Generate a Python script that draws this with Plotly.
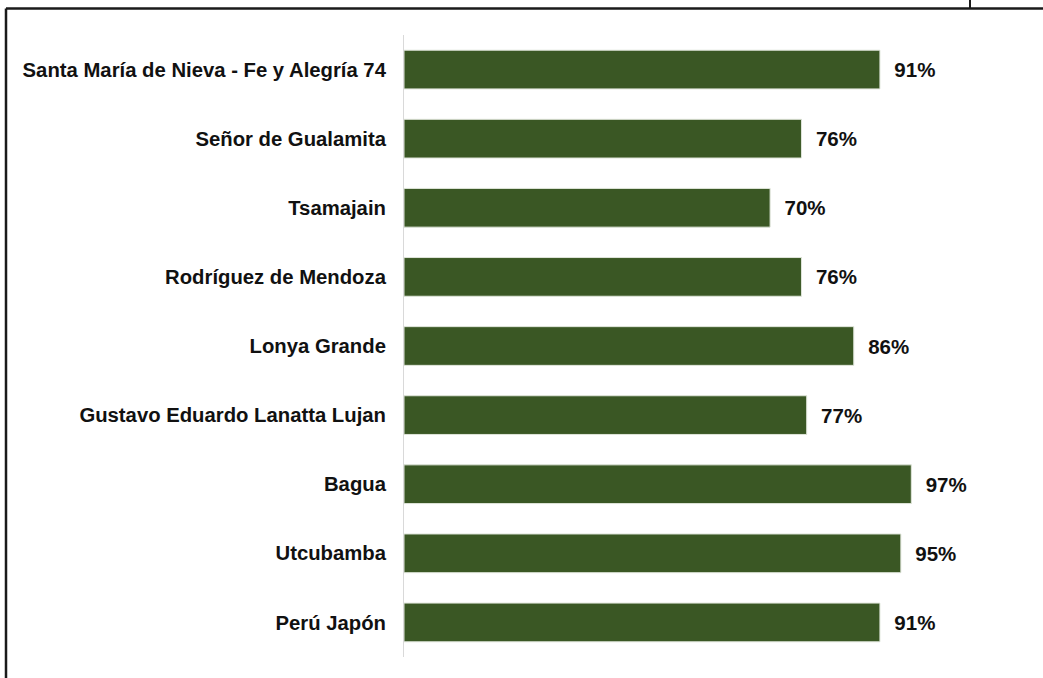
import plotly.graph_objects as go

categories = [
    "Santa María de Nieva - Fe y Alegría 74",
    "Señor de Gualamita",
    "Tsamajain",
    "Rodríguez de Mendoza",
    "Lonya Grande",
    "Gustavo Eduardo Lanatta Lujan",
    "Bagua",
    "Utcubamba",
    "Perú Japón",
]
values = [91, 76, 70, 76, 86, 77, 97, 95, 91]

W, H = 1043, 678
L, R, T, B = 404, 116, 35, 21

fig = go.Figure()
fig.add_trace(go.Bar(
    y=categories,
    x=values,
    orientation="h",
    marker=dict(color="#3a5724", line=dict(color="#dfe5da", width=1)),
    width=0.56,
    texttemplate="\u00a0\u00a0%{x}%",
    textposition="outside",
    constraintext="none",
    cliponaxis=False,
    textfont=dict(family="Liberation Sans", size=20.5, color="#111111", weight="bold"),
    hoverinfo="skip",
))

pw = W - L - R
ph = H - T - B
def px_x(p):
    return (p - L) / pw
def px_y(p):
    return 1 - (p - T) / ph

fig.update_layout(
    width=W, height=H,
    margin=dict(l=L, r=R, t=T, b=B),
    paper_bgcolor="white",
    plot_bgcolor="white",
    showlegend=False,
    bargap=0.44,
    xaxis=dict(range=[0, 100], visible=False, fixedrange=True),
    yaxis=dict(
        autorange="reversed",
        showline=True, linecolor="#d9d9d9", linewidth=1,
        ticks="", showgrid=False, zeroline=False,
        ticklabelstandoff=13,
        tickfont=dict(family="Liberation Sans", size=20.3, color="#111111", weight="bold"),
    ),
    shapes=[
        # outer frame (top and left edges visible)
        dict(type="line", xref="paper", yref="paper",
             x0=px_x(6), x1=px_x(1060), y0=px_y(8.5), y1=px_y(8.5),
             line=dict(color="#1a1a1a", width=2.5)),
        dict(type="line", xref="paper", yref="paper",
             x0=px_x(6), x1=px_x(6), y0=px_y(8.5), y1=px_y(700),
             line=dict(color="#1a1a1a", width=2.5)),
        dict(type="line", xref="paper", yref="paper",
             x0=px_x(970), x1=px_x(970), y0=px_y(0), y1=px_y(8),
             line=dict(color="#1a1a1a", width=2)),
    ],
)

fig.write_html(
    "out.html",
    config={"displayModeBar": False},
    post_script="document.body.style.margin='0';document.body.style.overflow='hidden';",
)
